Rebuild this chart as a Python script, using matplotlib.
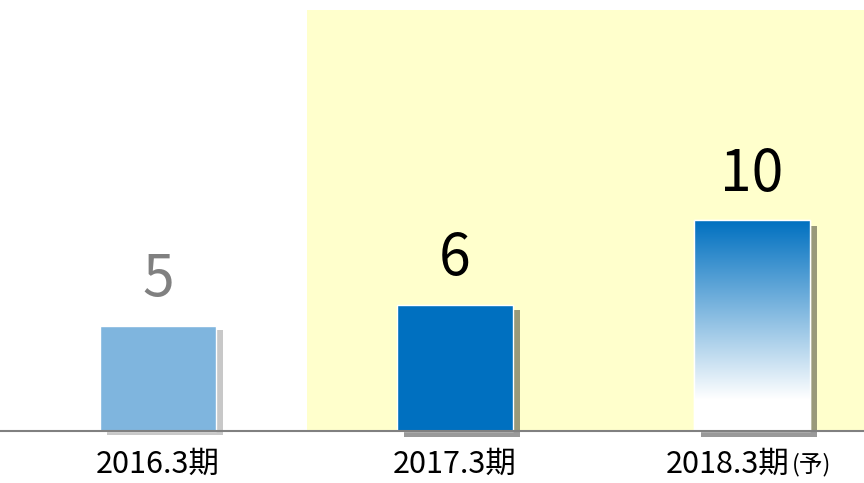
import numpy as np
import matplotlib.pyplot as plt
import matplotlib.patheffects as pe
from matplotlib.patches import Rectangle

# data
periods = ["2016.3期", "2017.3期", "2018.3期"]
values = [5, 6, 10]
forecast_note = "(予)"
bar_colors = ["#7FB5DE", "#0070C0", "#0070C0"]
label_colors = ["#808080", "#000000", "#000000"]

plt.rcParams["font.family"] = ["Noto Sans CJK JP", "DejaVu Sans"]

fig = plt.figure(figsize=(8.64, 4.83), dpi=100)
ax = fig.add_axes([0, 52 / 483, 1, 431 / 483])
ax.axis("off")

# yellow band for the later periods
ax.add_patch(Rectangle((0.5, 0), 2.0, 20.0, facecolor="#FFFFCC", edgecolor="none", zorder=0))

x = np.arange(len(values))
w = 0.39
bars = ax.bar(x, values, width=w, color=bar_colors, edgecolor="white", linewidth=1, zorder=3)
for i, b in enumerate(bars):
    b.set_clip_on(False)
    if i == 0:
        b.set_path_effects([pe.SimplePatchShadow(offset=(5, -3), shadow_rgbFace="#c8c8c8", alpha=1.0), pe.Normal()])
    else:
        b.set_path_effects([pe.SimplePatchShadow(offset=(5, -4), shadow_rgbFace="k", alpha=0.4), pe.Normal()])

# gradient on the forecast bar
last = bars[-1]
grad = np.linspace(0, 1, 256)
top = np.array([0, 112, 192]) / 255
t = np.clip(grad / 0.85, 0, 1)[:, None]
img = (top * (1 - t) + t).reshape(256, 1, 3)
bx, bw, bh = last.get_x(), last.get_width(), last.get_height()
im = ax.imshow(img, extent=[bx, bx + bw, 0, bh], aspect="auto", zorder=4, origin="upper")
im.set_clip_path(last)
ax.add_patch(Rectangle((bx, 0), bw, bh, facecolor="none", edgecolor="white", linewidth=1, zorder=5))
ax.set_xlim(-0.532, 2.377)
ax.set_ylim(0, 20.47)

# baseline
ax.axhline(0, color="#808080", linewidth=1.5, zorder=6, clip_on=False)

# value labels
for i, v in enumerate(values):
    ax.text(x[i], v + 0.8, str(v), ha="center", va="bottom", fontsize=41, color=label_colors[i])

# period labels
for i, p in enumerate(periods[:2]):
    ax.text(x[i], -1.6, p, ha="center", va="center", fontsize=22, clip_on=False)
ax.text(2.125, -1.6, periods[2], ha="right", va="center", fontsize=22, clip_on=False)
ax.text(2.135, -1.6, forecast_note, ha="left", va="center", fontsize=17, clip_on=False)

fig.savefig("out.png", dpi=100)
